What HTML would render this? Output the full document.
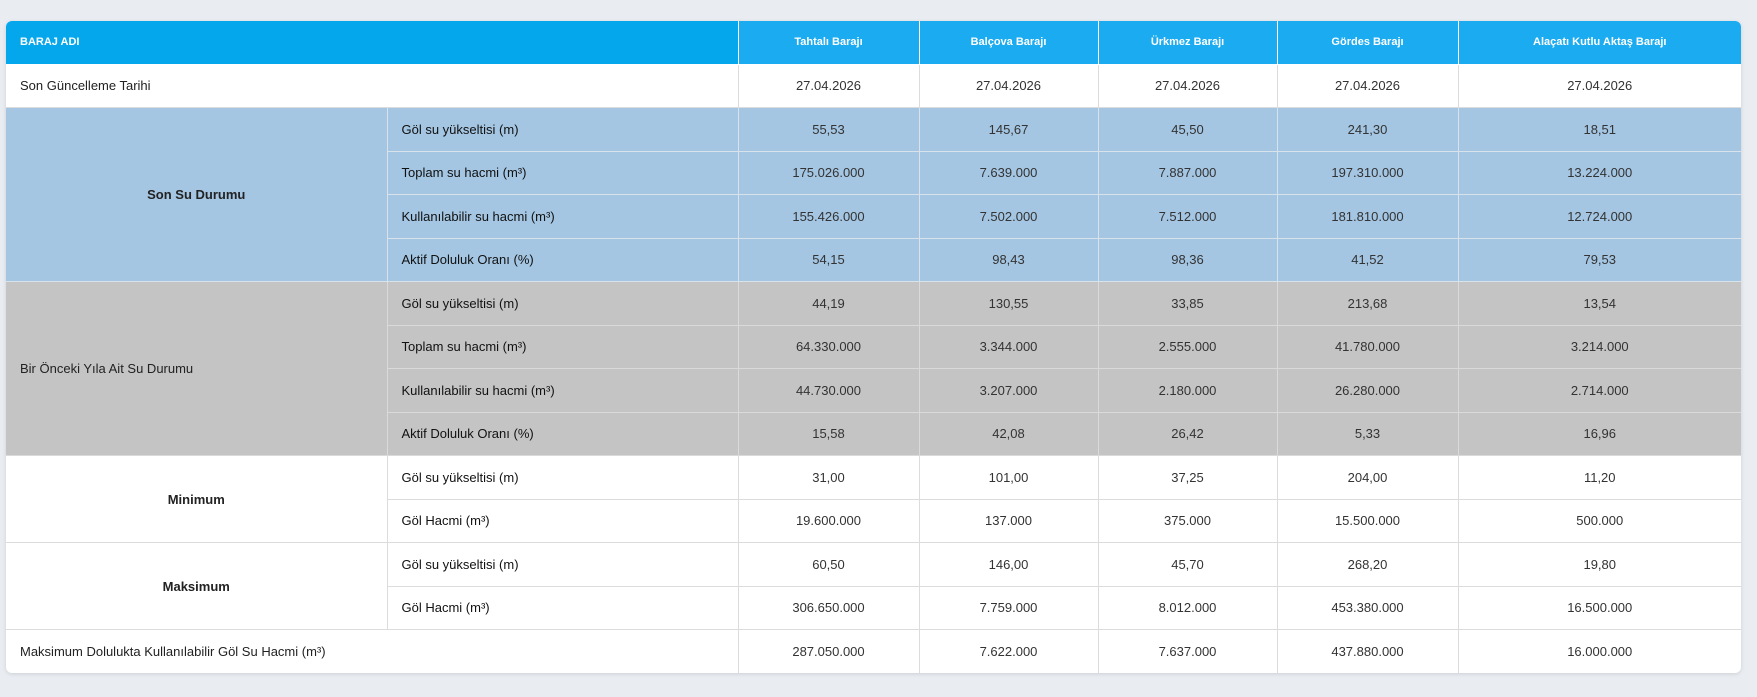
<!DOCTYPE html>
<html><head><meta charset="utf-8">
<style>
html,body{margin:0;padding:0;}
body{width:1757px;height:697px;background:#e9edf2;font-family:"Liberation Sans",sans-serif;overflow:hidden;position:relative;}
.card{position:absolute;left:6px;top:21px;width:1735px;height:652px;background:#fff;border-radius:6px;box-shadow:0 1px 4px rgba(0,0,0,0.12);overflow:hidden;}
table{border-collapse:collapse;table-layout:fixed;width:1735px;font-size:13px;color:#333;}
td,th{border:1px solid #dcdcdc;padding:0;height:43.5px;box-sizing:border-box;text-align:center;}
th{height:43px;background:#1aabf0;color:#fff;font-size:11px;font-weight:bold;border-color:#fff;border-top:none;}
th.first{background:#04a6ec;text-align:left;padding-left:14px;border-left:none;}
td.l{text-align:left;padding-left:14px;color:#222;}
td.s{text-align:left;padding-left:14px;color:#111;}
td.c{font-weight:bold;color:#222;}
tr.b td{background:#a4c6e3;border-color:#d8e2ea;}
tr.g td{background:#c4c4c4;border-color:#dadada;}
td:first-child{border-left:none;}
td:last-child,th:last-child{border-right:none;}
</style></head><body>
<div class="card">
<table>
<colgroup><col style="width:381px"><col style="width:351px"><col style="width:181px"><col style="width:179px"><col style="width:179px"><col style="width:181px"><col style="width:283px"></colgroup>
<tr><th class="first" colspan="2">BARAJ ADI</th><th>Tahtalı Barajı</th><th>Balçova Barajı</th><th>Ürkmez Barajı</th><th>Gördes Barajı</th><th>Alaçatı Kutlu Aktaş Barajı</th></tr>
<tr><td class="l" colspan="2">Son Güncelleme Tarihi</td><td>27.04.2026</td><td>27.04.2026</td><td>27.04.2026</td><td>27.04.2026</td><td>27.04.2026</td></tr>
<tr class="b"><td class="c" rowspan="4">Son Su Durumu</td><td class="s">Göl su yükseltisi (m)</td><td>55,53</td><td>145,67</td><td>45,50</td><td>241,30</td><td>18,51</td></tr>
<tr class="b"><td class="s">Toplam su hacmi (m³)</td><td>175.026.000</td><td>7.639.000</td><td>7.887.000</td><td>197.310.000</td><td>13.224.000</td></tr>
<tr class="b"><td class="s">Kullanılabilir su hacmi (m³)</td><td>155.426.000</td><td>7.502.000</td><td>7.512.000</td><td>181.810.000</td><td>12.724.000</td></tr>
<tr class="b"><td class="s">Aktif Doluluk Oranı (%)</td><td>54,15</td><td>98,43</td><td>98,36</td><td>41,52</td><td>79,53</td></tr>
<tr class="g"><td class="l" rowspan="4">Bir Önceki Yıla Ait Su Durumu</td><td class="s">Göl su yükseltisi (m)</td><td>44,19</td><td>130,55</td><td>33,85</td><td>213,68</td><td>13,54</td></tr>
<tr class="g"><td class="s">Toplam su hacmi (m³)</td><td>64.330.000</td><td>3.344.000</td><td>2.555.000</td><td>41.780.000</td><td>3.214.000</td></tr>
<tr class="g"><td class="s">Kullanılabilir su hacmi (m³)</td><td>44.730.000</td><td>3.207.000</td><td>2.180.000</td><td>26.280.000</td><td>2.714.000</td></tr>
<tr class="g"><td class="s">Aktif Doluluk Oranı (%)</td><td>15,58</td><td>42,08</td><td>26,42</td><td>5,33</td><td>16,96</td></tr>
<tr><td class="c" rowspan="2">Minimum</td><td class="s">Göl su yükseltisi (m)</td><td>31,00</td><td>101,00</td><td>37,25</td><td>204,00</td><td>11,20</td></tr>
<tr><td class="s">Göl Hacmi (m³)</td><td>19.600.000</td><td>137.000</td><td>375.000</td><td>15.500.000</td><td>500.000</td></tr>
<tr><td class="c" rowspan="2">Maksimum</td><td class="s">Göl su yükseltisi (m)</td><td>60,50</td><td>146,00</td><td>45,70</td><td>268,20</td><td>19,80</td></tr>
<tr><td class="s">Göl Hacmi (m³)</td><td>306.650.000</td><td>7.759.000</td><td>8.012.000</td><td>453.380.000</td><td>16.500.000</td></tr>
<tr><td class="l" colspan="2" style="border-bottom:none">Maksimum Dolulukta Kullanılabilir Göl Su Hacmi (m³)</td><td style="border-bottom:none">287.050.000</td><td style="border-bottom:none">7.622.000</td><td style="border-bottom:none">7.637.000</td><td style="border-bottom:none">437.880.000</td><td style="border-bottom:none">16.000.000</td></tr>
</table>
</div>
</body></html>
